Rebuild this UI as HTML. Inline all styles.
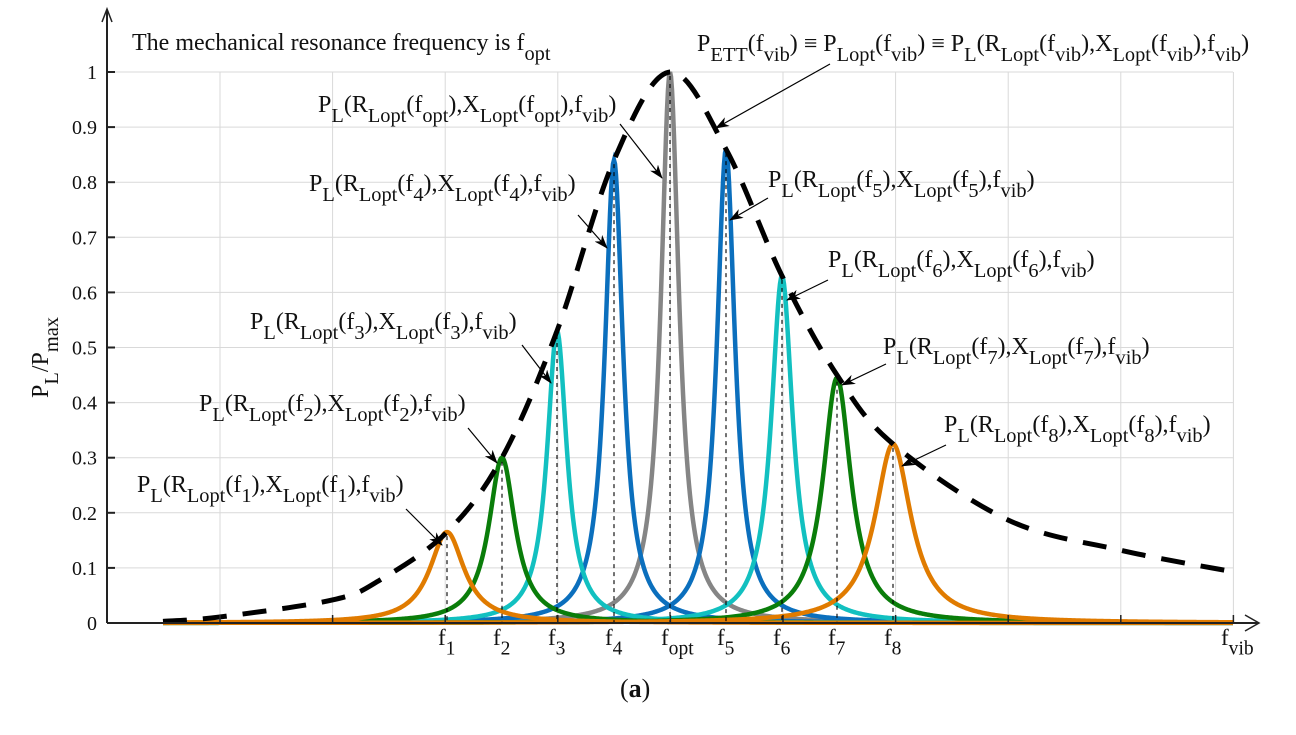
<!DOCTYPE html>
<html><head><meta charset="utf-8">
<style>
html,body{margin:0;padding:0;background:#fff;}
svg{display:block;font-family:"Liberation Serif",serif;}
</style></head>
<body>
<svg id="s" width="1296" height="735" viewBox="0 0 1296 735" xmlns="http://www.w3.org/2000/svg">
<defs>
<marker id="ah" markerWidth="14" markerHeight="10" refX="13" refY="5" orient="auto" markerUnits="userSpaceOnUse">
<path d="M0,0 L14,5 L0,10 L4,5 Z" fill="#000"/>
</marker>
</defs>
<g id="grid" stroke="#d9d9d9" stroke-width="1"></g>
<g id="curves"></g>
<g id="axes"></g>
<g id="labels" font-size="23" fill="#111"></g>
</svg>
<script>
const NS="http://www.w3.org/2000/svg";
function el(parent,tag,attrs,txt){const e=document.createElementNS(NS,tag);for(const k in attrs)e.setAttribute(k,attrs[k]);if(txt!==undefined)e.textContent=txt;(typeof parent==='string'?document.getElementById(parent):parent).appendChild(e);return e;}
const X0=107,Y0=623,YS=551;
const yv=v=>Y0-v*YS;
for(let k=0;k<10;k++){const x=220+112.6*k;el('grid','line',{x1:x,y1:72,x2:x,y2:Y0});}
for(let i=1;i<=10;i++){const y=yv(i/10);el('grid','line',{x1:X0,y1:y,x2:1233,y2:y});}
const ep=[[163,0.003],[220,0.011],[333,0.042],[380,0.078],[447,0.165],[502,0.3],[557,0.53],[614,0.84],[670,1.0],[726,0.86],[782,0.63],[837,0.45],[893,0.325],[1008,0.187],[1121,0.132],[1233,0.093]];
let d="M"+ep[0][0]+","+yv(ep[0][1]);
for(let i=0;i<ep.length-1;i++){const p0=ep[Math.max(0,i-1)],p1=ep[i],p2=ep[i+1],p3=ep[Math.min(ep.length-1,i+2)];
const c1=[p1[0]+(p2[0]-p0[0])/6,yv(p1[1])+(yv(p2[1])-yv(p0[1]))/6];
const c2=[p2[0]-(p3[0]-p1[0])/6,yv(p2[1])-(yv(p3[1])-yv(p1[1]))/6];
d+=` C${c1[0]},${c1[1]} ${c2[0]},${c2[1]} ${p2[0]},${yv(p2[1])}`;}
const pk=[[447,0.165,21,'#e07b00'],[502,0.3,16,'#0a7d0a'],[557,0.53,12,'#12c0c0'],[614,0.84,11,'#0b6fbd'],[670,1.0,11,'#858585'],[726,0.86,11,'#0b6fbd'],[782,0.63,13,'#12c0c0'],[837,0.445,17,'#0a7d0a'],[893,0.325,22,'#e07b00']];
const order=[4,3,5,2,6,1,7,0,8];
order.forEach(i=>{const [c,h,w,col]=pk[i];let pd="";for(let x=163;x<=1233;x+=1){const v=h/(1+((x-c)/w)**2);pd+=(x==163?"M":"L")+x+","+yv(v).toFixed(2);}
el('curves','path',{d:pd,fill:'none',stroke:col,'stroke-width':4.5});});
el('curves','path',{d:d,fill:'none',stroke:'#000','stroke-width':5,'stroke-dasharray':'24,16'});
pk.forEach(p=>{el('curves','line',{x1:p[0],y1:yv(p[1])+4,x2:p[0],y2:Y0,stroke:'#000','stroke-width':1.3,'stroke-dasharray':'4,4',opacity:0.85});});
el('axes','line',{x1:X0,y1:Y0,x2:1258,y2:Y0,stroke:'#222','stroke-width':2});
el('axes','path',{d:'M1245,615 L1259,623 L1245,631',fill:'none',stroke:'#222','stroke-width':1.5});
el('axes','line',{x1:X0,y1:Y0,x2:X0,y2:10,stroke:'#222','stroke-width':2});
el('axes','path',{d:'M102,22 L107,9 L112,22',fill:'none',stroke:'#222','stroke-width':1.5});
for(let i=0;i<=10;i++){const y=yv(i/10);el('axes','line',{x1:X0,y1:y,x2:X0+8,y2:y,stroke:'#222','stroke-width':2});
el('labels','text',{x:97,y:y+7,'text-anchor':'end','font-size':20},i==0?'0':i==10?'1':'0.'+i);}
for(let k=0;k<10;k++){const x=220+112.6*k;el('axes','line',{x1:x,y1:Y0,x2:x,y2:Y0-8,stroke:'#222','stroke-width':1.5});}
function rich(x,y,parts,size,parent){size=size||24;const t=el(parent||'labels','text',{x:x,y:y,'font-size':size});let cur=0;
parts.forEach(([txt,m])=>{const off=m==='s'?size*0.42:0;el(t,'tspan',{dy:off-cur,'font-size':m==='s'?size*0.85:size},txt);cur=off;});return t;}
function PL(n){return [['P','n'],['L','s'],['(R','n'],['Lopt','s'],['(f','n'],[n,'s'],['),X','n'],['Lopt','s'],['(f','n'],[n,'s'],['),f','n'],['vib','s'],[')','n']];}
rich(137,492,PL('1'));
rich(199,411,PL('2'));
rich(250,329,PL('3'));
rich(309,191,PL('4'));
rich(318,112,PL('opt'));
rich(768,187,PL('5'));
rich(828,267,PL('6'));
rich(883,354,PL('7'));
rich(944,432,PL('8'));
rich(697,51,[['P','n'],['ETT','s'],['(f','n'],['vib','s'],[') \u2261 P','n'],['Lopt','s'],['(f','n'],['vib','s'],[') \u2261 P','n'],['L','s'],['(R','n'],['Lopt','s'],['(f','n'],['vib','s'],['),X','n'],['Lopt','s'],['(f','n'],['vib','s'],['),f','n'],['vib','s'],[')','n']]);
rich(132,50,[['The mechanical resonance frequency is f','n'],['opt','s']]);
[[406,509,442,545],[468,428,497,463],[522,345,551,383],[578,215,607,248],[620,124,662,178],[768,198,730,220],[828,280,787,300],[886,364,842,385],[946,445,902,466],[830,64,716,128]].forEach(a=>{
el('labels','line',{x1:a[0],y1:a[1],x2:a[2],y2:a[3],stroke:'#000','stroke-width':1.2,'marker-end':'url(#ah)'});});
const xl=[[447,'1'],[502,'2'],[557,'3'],[614,'4'],[670,'opt'],[726,'5'],[782,'6'],[837,'7'],[893,'8']];
xl.forEach(([x,n])=>{rich(x-9,645,[['f','n'],[n,'s']],23);});
rich(1221,645,[['f','n'],['vib','s']],23);
const yl=rich(0,0,[['P','n'],['L','s'],['/P','n'],['max','s']],24);
yl.setAttribute('transform','translate(48,398) rotate(-90)');
const a=el('labels','text',{x:620,y:697,'font-size':26});
el(a,'tspan',{},'(');el(a,'tspan',{'font-weight':'bold'},'a');el(a,'tspan',{},')');
</script>
</body></html>
